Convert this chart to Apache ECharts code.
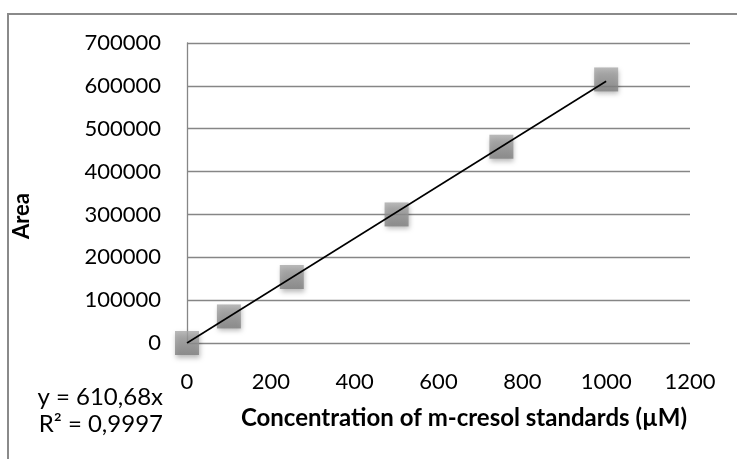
<!DOCTYPE html>
<html>
<head>
<meta charset="utf-8">
<script src="https://cdn.jsdelivr.net/npm/echarts@6/dist/echarts.min.js"></script>
<style>
  html, body { margin: 0; padding: 0; background: #fff; }
  #chart { width: 737px; height: 459px; }
</style>
</head>
<body>
<div id="chart"></div>
<script>
// m-cresol standards: concentration (µM) vs peak area
var concentrations = [0, 100, 250, 500, 750, 1000];
var areas = [0, 62000, 154000, 300000, 458000, 615000];

// linear trendline y = 610.68x drawn over the fitted range
var trendX = [0, 1000];
var trendY = [0, 610680];

var equationLines = ['y = 610,68x', 'R² = 0,9997'];

var font = 'Lato';

// plain numbers, no thousands separator
function plain(v) { return String(v); }

var chart = echarts.init(document.getElementById('chart'));

var option = {
    backgroundColor: '#fff',
    animation: false,
    grid: {
        left: 187,
        right: 47,
        top: 43,
        bottom: 116
    },
    xAxis: {
        type: 'value',
        min: 0,
        max: 1200,
        interval: 200,
        axisLine: { show: false },
        axisTick: { show: false },
        splitLine: { show: false },
        axisLabel: {
            margin: 28,
            fontFamily: font,
            fontSize: 22,
            color: '#000',
            formatter: plain
        }
    },
    yAxis: {
        type: 'value',
        min: 0,
        max: 700000,
        interval: 100000,
        axisLine: { show: true, lineStyle: { color: '#868686', width: 1.3 } },
        axisTick: { show: false },
        splitLine: { show: true, lineStyle: { color: '#868686', width: 1.3 } },
        axisLabel: {
            margin: 26,
            fontFamily: font,
            fontSize: 22,
            color: '#000',
            formatter: plain
        }
    },
    graphic: [
        {
            type: 'rect',
            shape: { x: 8, y: 14, width: 800, height: 500 },
            style: { fill: 'none', stroke: '#8a8a8a', lineWidth: 2 },
            silent: true
        },
        {
            type: 'text',
            x: 464,
            y: 418,
            style: {
                text: 'Concentration of m-cresol standards (µM)',
                fontFamily: font,
                fontWeight: 'bold',
                fontSize: 24,
                fill: '#000',
                align: 'center',
                verticalAlign: 'middle'
            }
        },
        {
            type: 'text',
            x: 22,
            y: 216,
            rotation: Math.PI / 2,
            style: {
                text: 'Area',
                fontFamily: font,
                fontWeight: 'bold',
                fontSize: 22,
                fill: '#000',
                align: 'center',
                verticalAlign: 'middle'
            }
        },
        {
            type: 'text',
            x: 163,
            y: 397,
            style: {
                text: equationLines[0],
                fontFamily: font,
                fontSize: 24,
                fill: '#000',
                align: 'right',
                verticalAlign: 'middle'
            }
        },
        {
            type: 'text',
            x: 163,
            y: 424,
            style: {
                text: equationLines[1],
                fontFamily: font,
                fontSize: 24,
                fill: '#000',
                align: 'right',
                verticalAlign: 'middle'
            }
        }
    ],
    series: [
        {
            type: 'scatter',
            data: concentrations.map(function (c, i) { return [c, areas[i]]; }),
            symbol: 'rect',
            symbolSize: 24,
            z: 2,
            itemStyle: {
                color: new echarts.graphic.LinearGradient(0, 0, 0, 1, [
                    { offset: 0, color: '#a9a9a9' },
                    { offset: 1, color: '#7e7e7e' }
                ]),
                shadowBlur: 5,
                shadowOffsetY: 3,
                shadowOffsetX: 1,
                shadowColor: 'rgba(0,0,0,0.35)'
            }
        },
        {
            type: 'line',
            data: trendX.map(function (x, i) { return [x, trendY[i]]; }),
            symbol: 'none',
            z: 3,
            lineStyle: { color: '#000', width: 1.6 }
        }
    ]
};

chart.setOption(option);
</script>
</body>
</html>
